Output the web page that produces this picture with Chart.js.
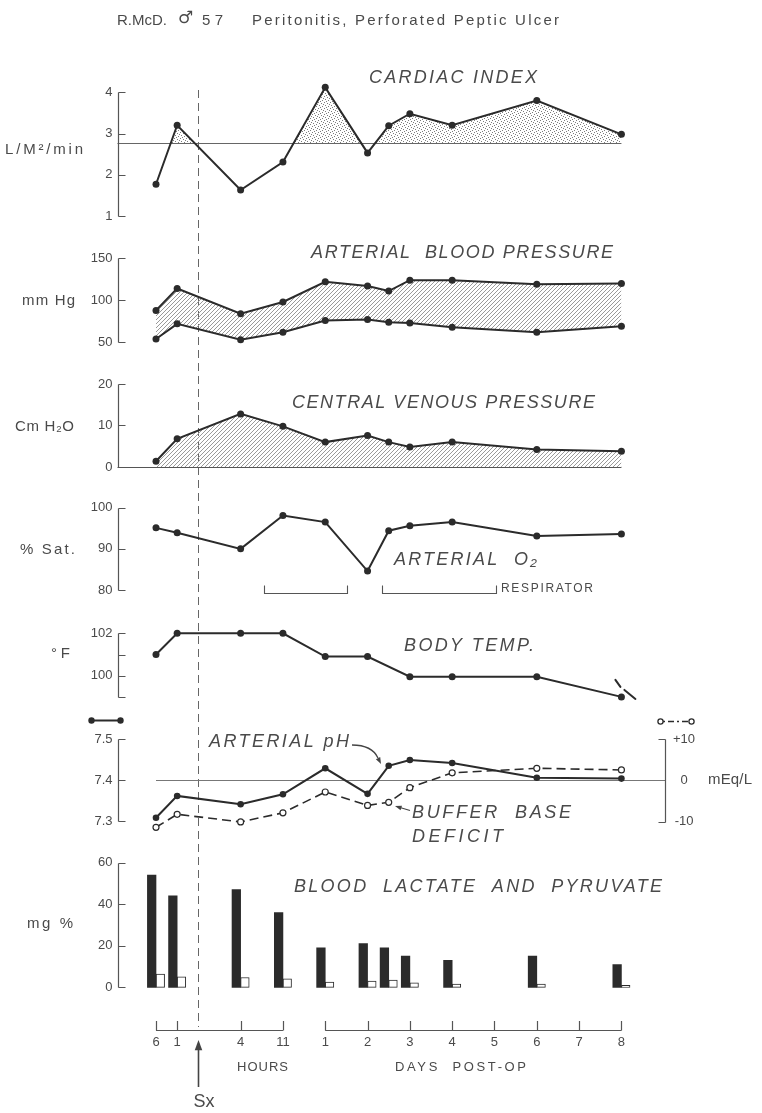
<!DOCTYPE html>
<html>
<head>
<meta charset="utf-8">
<title>R.McD. Peritonitis, Perforated Peptic Ulcer</title>
<script src="https://cdn.jsdelivr.net/npm/chart.js@4.4.1/dist/chart.umd.min.js"></script>
<style>
  html, body { margin: 0; padding: 0; background: #fff; }
  #page { position: relative; width: 762px; height: 1113px; overflow: hidden; }
  #page canvas { position: absolute; left: 0; top: 0; }
</style>
</head>
<body>
<div id="page">
  <canvas id="frame" width="762" height="1113"></canvas>
  <canvas id="cardiac" width="762" height="1113"></canvas>
  <canvas id="pressure" width="762" height="1113"></canvas>
  <canvas id="venous" width="762" height="1113"></canvas>
  <canvas id="oxygen" width="762" height="1113"></canvas>
  <canvas id="temp" width="762" height="1113"></canvas>
  <canvas id="ph" width="762" height="1113"></canvas>
  <canvas id="lactate" width="762" height="1113"></canvas>
</div>
<script>
// sampling times, placed on the schematic time axis (1 unit = one day tick)
const timeLabels = ["6 h pre-op", "1 h pre-op", "4 h", "11 h", "day 1", "day 2", "day 2.5", "day 3", "day 4", "day 6", "day 8"];
const timePos = [0, 0.5, 2, 3, 4, 5, 5.5, 6, 7, 9, 11];
const surgeryPos = 1;

const hourTickPos = [0, 0.5, 2, 3];
const hourTickLabels = ["6", "1", "4", "11"];
const dayTickPos = [4, 5, 6, 7, 8, 9, 10, 11];
const dayTickLabels = ["1", "2", "3", "4", "5", "6", "7", "8"];

const cardiacIndex = [1.77, 3.2, 1.63, 2.31, 4.12, 2.53, 3.19, 3.48, 3.2, 3.8, 2.98];
const cardiacNormal = 2.77;
const systolic = [88, 114, 84, 98, 122, 117, 111, 124, 124, 119, 120];
const diastolic = [54, 72, 53, 62, 76, 77, 74, 73, 68, 62, 69];
const venous = [1.4, 6.8, 12.8, 9.8, 6.0, 7.6, 6.0, 4.8, 6.0, 4.2, 3.8];
const o2Sat = [95.1, 93.9, 90.0, 98.1, 96.5, 84.6, 94.4, 95.6, 96.5, 93.1, 93.6];
const respirator = [[2.55, 4.52], [5.35, 8.03]];
const bodyTemp = [101.0, 102.0, 102.0, 102.0, 100.9, 100.9, null, 99.95, 99.95, 99.95, 99.0];
const arterialPH = [7.309, 7.362, 7.342, 7.366, 7.429, 7.367, 7.435, 7.449, 7.442, 7.406, 7.404];
const bufferBase = [-11.4, -8.25, -10.1, -7.9, -2.85, -6.1, -5.35, -1.8, 1.8, 2.9, 2.5];
const lactate = [54, 44, 47, 36, 19, 21, 19, 15, 13, 15, 11];
const pyruvate = [6.4, 5.1, 4.7, 4.1, 2.5, 3.0, 3.5, 2.1, 1.6, 1.6, 0.9];

// ---- layout ----
const W = 762, H = 1113;
const AREA_TOP = 20, AREA_BOTTOM = H - 20;
const X_MIN = -0.91, X_MAX = 12.03;
const LEFT_W = 117.5, RIGHT_W = 97;
const INK = '#2b2b2b', TEXT = '#4a4a4a', AXIS = '#555';
const FONT = "'Liberation Sans', 'DejaVu Sans', sans-serif";
Chart.defaults.font.family = FONT;

// value range so that v1 sits at pixel p1 and v2 at pixel p2
function yRange(v1, p1, v2, p2) {
  const k = (v2 - v1) / (p2 - p1);
  return { min: v1 + (AREA_BOTTOM - p1) * k, max: v1 + (AREA_TOP - p1) * k };
}
function points(values) {
  return values.map((v, i) => ({ x: timePos[i], y: v }));
}

function makePattern(size, draw) {
  const c = document.createElement('canvas');
  c.width = size; c.height = size;
  const g = c.getContext('2d');
  draw(g);
  return g.createPattern(c, 'repeat');
}
const stipple = makePattern(6, g => {
  g.fillStyle = '#7d7d7d';
  [[0, 0], [3, 1], [1, 3], [4, 4], [5, 2], [2, 5]].forEach(([a, b]) => g.fillRect(a, b, 1, 1));
});
const hatch = makePattern(4, g => {
  g.fillStyle = '#9a9a9a';
  for (let i = 0; i < 4; i++) g.fillRect(i, 3 - i, 1, 1);
});

function label(ctx, str, x, y, o = {}) {
  ctx.save();
  ctx.font = (o.italic ? 'italic ' : '') + (o.size || 13) + 'px ' + (o.family || FONT);
  ctx.fillStyle = o.color || TEXT;
  ctx.textBaseline = 'middle';
  ctx.textAlign = o.align || 'left';
  if (o.width) {
    const n = [...str].length;
    const w = ctx.measureText(str).width;
    const ls = (o.width - w) / Math.max(n - 1, 1);
    if (ls >= -0.8) ctx.letterSpacing = ls.toFixed(2) + 'px';
    else { ctx.translate(x, y); ctx.scale(o.width / w, 1); x = 0; y = 0; }
  }
  ctx.fillText(str, x, y);
  ctx.restore();
}

function bracket(chart, scale, values, side) {
  const ctx = chart.ctx;
  const x = Math.round(side === 'right' ? chart.chartArea.right : chart.chartArea.left) + 0.5;
  const d = side === 'right' ? -7 : 7;
  const ys = values.map(v => Math.round(scale.getPixelForValue(v)) + 0.5);
  ctx.save();
  ctx.strokeStyle = AXIS; ctx.lineWidth = 1.2;
  ctx.beginPath();
  ctx.moveTo(x, Math.min(...ys)); ctx.lineTo(x, Math.max(...ys));
  ys.forEach(y => { ctx.moveTo(x, y); ctx.lineTo(x + d, y); });
  ctx.stroke();
  ctx.restore();
}

function hLine(chart, scale, value, x0, x1, color, width) {
  const ctx = chart.ctx;
  const y = Math.round(scale.getPixelForValue(value)) + 0.5;
  ctx.save();
  ctx.strokeStyle = color; ctx.lineWidth = width || 1;
  ctx.beginPath(); ctx.moveTo(x0, y); ctx.lineTo(x1, y); ctx.stroke();
  ctx.restore();
}

function arrowHead(ctx, x, y, ang, len) {
  ctx.beginPath();
  ctx.moveTo(x, y);
  ctx.lineTo(x - len * Math.cos(ang - 0.35), y - len * Math.sin(ang - 0.35));
  ctx.lineTo(x - len * Math.cos(ang + 0.35), y - len * Math.sin(ang + 0.35));
  ctx.closePath();
  ctx.fill();
}

function yAxis(range, ticks, fmt) {
  return {
    type: 'linear', position: 'left', min: range.min, max: range.max,
    afterBuildTicks: s => { s.ticks = ticks.map(v => ({ value: v })); },
    afterFit: s => { s.width = LEFT_W; },
    grid: { display: false, drawTicks: false },
    border: { display: false },
    ticks: { color: TEXT, font: { size: 13 }, padding: 5, autoSkip: false, callback: fmt || (v => String(v)) }
  };
}

function baseOptions(y, extra, hasRight) {
  return {
    responsive: false, animation: false, events: [],
    layout: { padding: { left: 0, right: hasRight ? 0 : RIGHT_W, top: AREA_TOP, bottom: H - AREA_BOTTOM } },
    plugins: { legend: { display: false }, tooltip: { enabled: false } },
    scales: Object.assign({
      x: {
        type: 'linear', min: X_MIN, max: X_MAX, display: false, offset: false,
        afterBuildTicks: s => { s.ticks = [{ value: X_MIN }, { value: X_MAX }]; }
      },
      y: y
    }, extra || {})
  };
}

function lineSet(values, extra) {
  return Object.assign({
    data: points(values), borderColor: INK, borderWidth: 2, tension: 0,
    pointRadius: 3.5, pointBackgroundColor: INK, pointBorderColor: INK, pointBorderWidth: 0,
    fill: false, spanGaps: true
  }, extra || {});
}

// ---- frame: title, surgery line, time axis ----
new Chart('frame', {
  type: 'line',
  data: { datasets: [] },
  options: Object.assign(baseOptions({ display: false, min: 0, max: 1 }), {
    layout: { padding: { left: LEFT_W, right: RIGHT_W, top: AREA_TOP, bottom: H - AREA_BOTTOM } }
  }),
  plugins: [{
    id: 'frameDeco',
    afterDraw(chart) {
      const ctx = chart.ctx, x = chart.scales.x;
      label(ctx, 'R.McD.', 117, 21, { size: 15 });
      label(ctx, '\u2642', 178, 19, { size: 17, family: "'DejaVu Sans', sans-serif" });
      label(ctx, '57', 202, 21, { size: 15, width: 21 });
      label(ctx, 'Peritonitis, Perforated Peptic Ulcer', 252, 21, { size: 15, width: 307 });

      const sx = Math.round(x.getPixelForValue(surgeryPos)) + 0.5;
      ctx.save();
      ctx.strokeStyle = '#666'; ctx.lineWidth = 1; ctx.setLineDash([8, 5]);
      ctx.beginPath(); ctx.moveTo(sx, 90); ctx.lineTo(sx, 1027); ctx.stroke();
      ctx.restore();

      ctx.save();
      ctx.strokeStyle = AXIS; ctx.lineWidth = 1.2;
      [hourTickPos, dayTickPos].forEach(ticks => {
        const yb = 1030.5, yt = 1021;
        ctx.beginPath();
        ctx.moveTo(x.getPixelForValue(ticks[0]), yb);
        ctx.lineTo(x.getPixelForValue(ticks[ticks.length - 1]), yb);
        ticks.forEach(t => {
          const px = Math.round(x.getPixelForValue(t)) + 0.5;
          ctx.moveTo(px, yt); ctx.lineTo(px, yb);
        });
        ctx.stroke();
      });
      ctx.restore();
      hourTickPos.forEach((t, i) => label(ctx, hourTickLabels[i], x.getPixelForValue(t), 1042, { size: 13, align: 'center' }));
      dayTickPos.forEach((t, i) => label(ctx, dayTickLabels[i], x.getPixelForValue(t), 1042, { size: 13, align: 'center' }));
      label(ctx, 'HOURS', 237, 1067, { size: 13, width: 51 });
      label(ctx, 'DAYS  POST-OP', 395, 1067, { size: 13, width: 131 });

      ctx.save();
      ctx.strokeStyle = '#444'; ctx.fillStyle = '#444'; ctx.lineWidth = 1.6;
      ctx.beginPath(); ctx.moveTo(sx, 1087); ctx.lineTo(sx, 1048); ctx.stroke();
      arrowHead(ctx, sx, 1040, -Math.PI / 2, 11);
      ctx.restore();
      label(ctx, 'Sx', 204, 1102, { size: 18, align: 'center' });
    }
  }]
});

// ---- cardiac index ----
const ciRange = yRange(4, 92.3, 1, 216);
new Chart('cardiac', {
  type: 'line',
  data: { datasets: [lineSet(cardiacIndex, {
    fill: { target: { value: cardiacNormal }, above: stipple, below: 'rgba(0,0,0,0)' }
  })] },
  options: baseOptions(yAxis(ciRange, [1, 2, 3, 4])),
  plugins: [{
    id: 'ciDeco',
    beforeDatasetsDraw(chart) {
      const x = chart.scales.x;
      hLine(chart, chart.scales.y, cardiacNormal, chart.chartArea.left, x.getPixelForValue(timePos[timePos.length - 1]), '#666', 1.2);
    },
    afterDraw(chart) {
      bracket(chart, chart.scales.y, [1, 2, 3, 4], 'left');
      label(chart.ctx, 'L/M\u00B2/min', 5, 150, { size: 15, width: 78 });
      label(chart.ctx, 'CARDIAC INDEX', 369, 78, { size: 18, italic: true, width: 168 });
    }
  }]
});

// ---- arterial blood pressure ----
const bpRange = yRange(150, 258.3, 50, 342.3);
new Chart('pressure', {
  type: 'line',
  data: { datasets: [
    lineSet(systolic),
    lineSet(diastolic, { fill: '-1', backgroundColor: hatch })
  ] },
  options: baseOptions(yAxis(bpRange, [50, 100, 150])),
  plugins: [{
    id: 'bpDeco',
    afterDraw(chart) {
      bracket(chart, chart.scales.y, [50, 100, 150], 'left');
      label(chart.ctx, 'mm Hg', 22, 301, { size: 15, width: 53 });
      label(chart.ctx, 'ARTERIAL  BLOOD PRESSURE', 311, 253, { size: 18, italic: true, width: 302 });
    }
  }]
});

// ---- central venous pressure ----
const cvpRange = yRange(20, 384, 0, 467);
new Chart('venous', {
  type: 'line',
  data: { datasets: [lineSet(venous, { fill: { target: 'origin' }, backgroundColor: hatch })] },
  options: baseOptions(yAxis(cvpRange, [0, 10, 20])),
  plugins: [{
    id: 'cvpDeco',
    afterDraw(chart) {
      const x = chart.scales.x;
      bracket(chart, chart.scales.y, [0, 10, 20], 'left');
      hLine(chart, chart.scales.y, 0, chart.chartArea.left, x.getPixelForValue(timePos[timePos.length - 1]), AXIS, 1.2);
      label(chart.ctx, 'Cm H\u2082O', 15, 427, { size: 15, width: 59 });
      label(chart.ctx, 'CENTRAL VENOUS PRESSURE', 292, 403, { size: 18, italic: true, width: 303 });
    }
  }]
});

// ---- arterial O2 saturation ----
const o2Range = yRange(100, 507.7, 80, 590);
new Chart('oxygen', {
  type: 'line',
  data: { datasets: [lineSet(o2Sat)] },
  options: baseOptions(yAxis(o2Range, [80, 90, 100])),
  plugins: [{
    id: 'o2Deco',
    afterDraw(chart) {
      const ctx = chart.ctx, x = chart.scales.x, y = chart.scales.y;
      bracket(chart, y, [80, 90, 100], 'left');
      const yb = Math.round(y.getPixelForValue(80)) + 3.5;
      ctx.save();
      ctx.strokeStyle = AXIS; ctx.lineWidth = 1.1;
      respirator.forEach(([a, b]) => {
        const xa = Math.round(x.getPixelForValue(a)) + 0.5, xb = Math.round(x.getPixelForValue(b)) + 0.5;
        ctx.beginPath();
        ctx.moveTo(xa, yb - 8); ctx.lineTo(xa, yb); ctx.lineTo(xb, yb); ctx.lineTo(xb, yb - 8);
        ctx.stroke();
      });
      ctx.restore();
      label(ctx, 'RESPIRATOR', 501, 589, { size: 12, width: 92 });
      label(ctx, '% Sat.', 20, 550, { size: 15, width: 55 });
      label(ctx, 'ARTERIAL  O\u2082', 394, 560, { size: 18, italic: true, width: 143 });
    }
  }]
});

// ---- body temperature ----
const tRange = yRange(102, 633.3, 100, 675.7);
new Chart('temp', {
  type: 'line',
  data: { datasets: [lineSet(bodyTemp)] },
  options: baseOptions(yAxis(tRange, [99, 100, 101, 102], v => (v % 2 === 0 ? String(v) : ''))),
  plugins: [{
    id: 'tempDeco',
    afterDraw(chart) {
      const ctx = chart.ctx, x = chart.scales.x, y = chart.scales.y;
      bracket(chart, y, [99, 100, 101, 102], 'left');
      const last = bodyTemp.length - 1;
      const px = x.getPixelForValue(timePos[last]), py = y.getPixelForValue(bodyTemp[last]);
      ctx.save();
      ctx.strokeStyle = INK; ctx.lineWidth = 2; ctx.lineCap = 'round';
      ctx.beginPath(); ctx.moveTo(px - 6, py - 17); ctx.lineTo(px - 1, py - 10); ctx.stroke();
      ctx.beginPath(); ctx.moveTo(px + 3, py - 7); ctx.lineTo(px + 14, py + 2); ctx.stroke();
      ctx.restore();
      label(ctx, '\u00B0F', 51, 654, { size: 15, width: 19 });
      label(ctx, 'BODY TEMP.', 404, 646, { size: 18, italic: true, width: 130 });
    }
  }]
});

// ---- arterial pH and buffer base deficit ----
const phRange = yRange(7.5, 739, 7.3, 821.5);
const bbRange = yRange(10, 739, -10, 821.5);
new Chart('ph', {
  type: 'line',
  data: { datasets: [
    lineSet(arterialPH, { pointRadius: 3.3 }),
    lineSet(bufferBase, {
      yAxisID: 'yb', borderWidth: 1.6, borderDash: [9, 5],
      pointRadius: 3, pointBackgroundColor: '#fff', pointBorderWidth: 1.2
    })
  ] },
  options: baseOptions(yAxis(phRange, [7.3, 7.4, 7.5], v => v.toFixed(1)), {
    yb: {
      type: 'linear', position: 'right', min: bbRange.min, max: bbRange.max,
      afterBuildTicks: s => { s.ticks = [10, 0, -10].map(v => ({ value: v })); },
      afterFit: s => { s.width = RIGHT_W; },
      grid: { display: false, drawTicks: false },
      border: { display: false },
      ticks: { color: TEXT, font: { size: 13 }, padding: 8, crossAlign: 'center', autoSkip: false,
               callback: v => (v > 0 ? '+' + v : String(v)) }
    }
  }, true),
  plugins: [{
    id: 'phDeco',
    beforeDatasetsDraw(chart) {
      const x = chart.scales.x;
      hLine(chart, chart.scales.y, 7.4, x.getPixelForValue(timePos[0]), chart.chartArea.right, '#777', 1.2);
    },
    afterDraw(chart) {
      const ctx = chart.ctx;
      bracket(chart, chart.scales.y, [7.3, 7.4, 7.5], 'left');
      bracket(chart, chart.scales.yb, [-10, 10], 'right');
      label(ctx, 'mEq/L', 708, 780, { size: 15, width: 44 });

      ctx.save();
      ctx.strokeStyle = INK; ctx.fillStyle = INK; ctx.lineWidth = 2;
      ctx.beginPath(); ctx.moveTo(91.5, 720.5); ctx.lineTo(120.5, 720.5); ctx.stroke();
      [91.5, 120.5].forEach(cx => { ctx.beginPath(); ctx.arc(cx, 720.5, 3.2, 0, 2 * Math.PI); ctx.fill(); });
      ctx.lineWidth = 1.3; ctx.setLineDash([2, 3, 6, 3]);
      ctx.beginPath(); ctx.moveTo(663, 721.5); ctx.lineTo(689, 721.5); ctx.stroke();
      ctx.setLineDash([]); ctx.fillStyle = '#fff';
      [660.5, 691.5].forEach(cx => { ctx.beginPath(); ctx.arc(cx, 721.5, 2.6, 0, 2 * Math.PI); ctx.fill(); ctx.stroke(); });

      ctx.strokeStyle = '#444'; ctx.fillStyle = '#444'; ctx.lineWidth = 1.3;
      ctx.beginPath(); ctx.moveTo(352, 745); ctx.quadraticCurveTo(372, 745, 378, 758); ctx.stroke();
      arrowHead(ctx, 381, 764, Math.atan2(6, 3), 7);
      ctx.beginPath(); ctx.moveTo(410, 810.5); ctx.lineTo(400, 807.5); ctx.stroke();
      arrowHead(ctx, 395, 806, Math.atan2(-4, -13), 7);
      ctx.restore();

      label(ctx, 'ARTERIAL pH', 209, 742, { size: 18, italic: true, width: 140 });
      label(ctx, 'BUFFER  BASE', 412, 813, { size: 18, italic: true, width: 159 });
      label(ctx, 'DEFICIT', 412, 837, { size: 18, italic: true, width: 91 });
    }
  }]
});

// ---- blood lactate (filled) and pyruvate (open) ----
const lacRange = yRange(60, 862.7, 0, 987.3);
new Chart('lactate', {
  type: 'bar',
  data: { datasets: [
    { label: 'Lactate', data: points(lactate), backgroundColor: INK, borderWidth: 0,
      barThickness: 8.6, grouped: true },
    { label: 'Pyruvate', data: points(pyruvate), backgroundColor: '#fff', borderColor: INK, borderWidth: 1,
      borderSkipped: false, barThickness: 8.6, grouped: true }
  ] },
  options: baseOptions(yAxis(lacRange, [0, 20, 40, 60])),
  plugins: [{
    id: 'lacDeco',
    afterDraw(chart) {
      bracket(chart, chart.scales.y, [0, 20, 40, 60], 'left');
      label(chart.ctx, 'mg %', 27, 924, { size: 15, width: 46 });
      label(chart.ctx, 'BLOOD  LACTATE  AND  PYRUVATE', 294, 887, { size: 18, italic: true, width: 368 });
    }
  }]
});
</script>
</body>
</html>
